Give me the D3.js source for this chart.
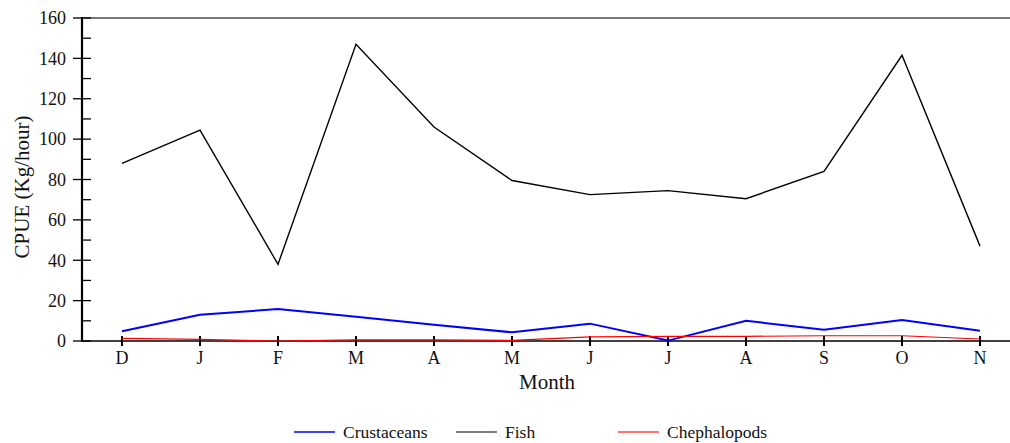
<!DOCTYPE html>
<html>
<head>
<meta charset="utf-8">
<script src="https://cdn.jsdelivr.net/npm/d3@7"></script>
<style>
  html, body { margin: 0; padding: 0; background: #fff; }
  svg { display: block; font-family: "Liberation Serif", "Times New Roman", serif; }
</style>
</head>
<body>
<svg id="chart" width="1010" height="443"></svg>
<script>
// Monthly CPUE by catch group
const months = ["D", "J", "F", "M", "A", "M", "J", "J", "A", "S", "O", "N"];
const crustaceans = [4.8, 13.0, 15.8, 12.0, 8.1, 4.3, 8.6, 0.2, 10.0, 5.6, 10.4, 5.1];
const fish = [88, 104.5, 38, 147, 106, 79.5, 72.5, 74.5, 70.5, 84, 141.5, 47];
const cephalopods = [1.3, 0.8, 0.0, 0.6, 0.6, 0.3, 2.0, 2.3, 2.3, 2.6, 2.6, 1.0];
const yTicks = [0, 20, 40, 60, 80, 100, 120, 140, 160];
const yMinorTicks = [10, 30, 50, 70, 90, 110, 130, 150];

const seriesList = [
  { name: "Crustaceans", values: crustaceans, color: "#0000ff", width: 2 },
  { name: "Fish", values: fish, color: "#000000", width: 1.4 },
  { name: "Chephalopods", values: cephalopods, color: "#ff0000", width: 1.2 }
];

const svg = d3.select("#chart");
const plotLeft = 82, plotRight = 1010, plotTop = 18, plotBottom = 341;

const x = d3.scalePoint().domain(d3.range(months.length)).range([122, 980]);
const y = d3.scaleLinear().domain([0, 160]).range([plotBottom, plotTop]);

// top frame line
svg.append("line")
  .attr("x1", plotLeft).attr("x2", plotRight).attr("y1", plotTop).attr("y2", plotTop)
  .attr("stroke", "#777").attr("stroke-width", 2);

// x axis baseline
svg.append("line")
  .attr("x1", plotLeft).attr("x2", plotRight).attr("y1", plotBottom).attr("y2", plotBottom)
  .attr("stroke", "#000").attr("stroke-width", 1.5);

// y axis line
svg.append("line")
  .attr("x1", plotLeft).attr("x2", plotLeft).attr("y1", plotTop - 1).attr("y2", plotBottom + 1)
  .attr("stroke", "#000").attr("stroke-width", 2.2);

// major y ticks cross the axis
svg.append("g").selectAll("line").data(yTicks).join("line")
  .attr("x1", plotLeft - 9).attr("x2", plotLeft + 9)
  .attr("y1", d => y(d)).attr("y2", d => y(d))
  .attr("stroke", "#000").attr("stroke-width", 1.3);

// minor y ticks inside only
svg.append("g").selectAll("line").data(yMinorTicks).join("line")
  .attr("x1", plotLeft).attr("x2", plotLeft + 9)
  .attr("y1", d => y(d)).attr("y2", d => y(d))
  .attr("stroke", "#000").attr("stroke-width", 1.3);

svg.append("g").selectAll("text").data(yTicks).join("text")
  .attr("x", plotLeft - 16).attr("y", d => y(d)).attr("dy", "0.35em")
  .attr("text-anchor", "end").attr("font-size", 18).attr("fill", "#111")
  .text(d => d);

// x ticks
svg.append("g").selectAll("line").data(months).join("line")
  .attr("x1", (d, i) => x(i)).attr("x2", (d, i) => x(i))
  .attr("y1", plotBottom - 5).attr("y2", plotBottom + 5)
  .attr("stroke", "#000").attr("stroke-width", 2);

svg.append("g").selectAll("text").data(months).join("text")
  .attr("x", (d, i) => x(i)).attr("y", 364)
  .attr("text-anchor", "middle").attr("font-size", 18).attr("fill", "#111")
  .text(d => d);

// axis titles
svg.append("text")
  .attr("x", 547).attr("y", 389)
  .attr("text-anchor", "middle").attr("font-size", 21).attr("fill", "#111")
  .text("Month");

svg.append("text")
  .attr("transform", "translate(29,187) rotate(-90)")
  .attr("text-anchor", "middle").attr("font-size", 21).attr("fill", "#111")
  .text("CPUE (Kg/hour)");

// series lines
const line = d3.line().x((d, i) => x(i)).y(d => y(d));
seriesList.forEach(s => {
  svg.append("path")
    .datum(s.values)
    .attr("d", line)
    .attr("fill", "none")
    .attr("stroke", s.color)
    .attr("stroke-width", s.width)
    .attr("stroke-linejoin", "miter");
});

// legend
const legendX = [294, 456, 618];
const legendColors = ["#0000ff", "#555", "#ff4444"];
const lg = svg.append("g");
seriesList.forEach((s, i) => {
  lg.append("line")
    .attr("x1", legendX[i]).attr("x2", legendX[i] + 41)
    .attr("y1", 432).attr("y2", 432)
    .attr("stroke", legendColors[i]).attr("stroke-width", 1.5);
  lg.append("text")
    .attr("x", legendX[i] + 49).attr("y", 432).attr("dy", "0.35em")
    .attr("font-size", 17.5).attr("fill", "#111")
    .text(s.name);
});
</script>
</body>
</html>
